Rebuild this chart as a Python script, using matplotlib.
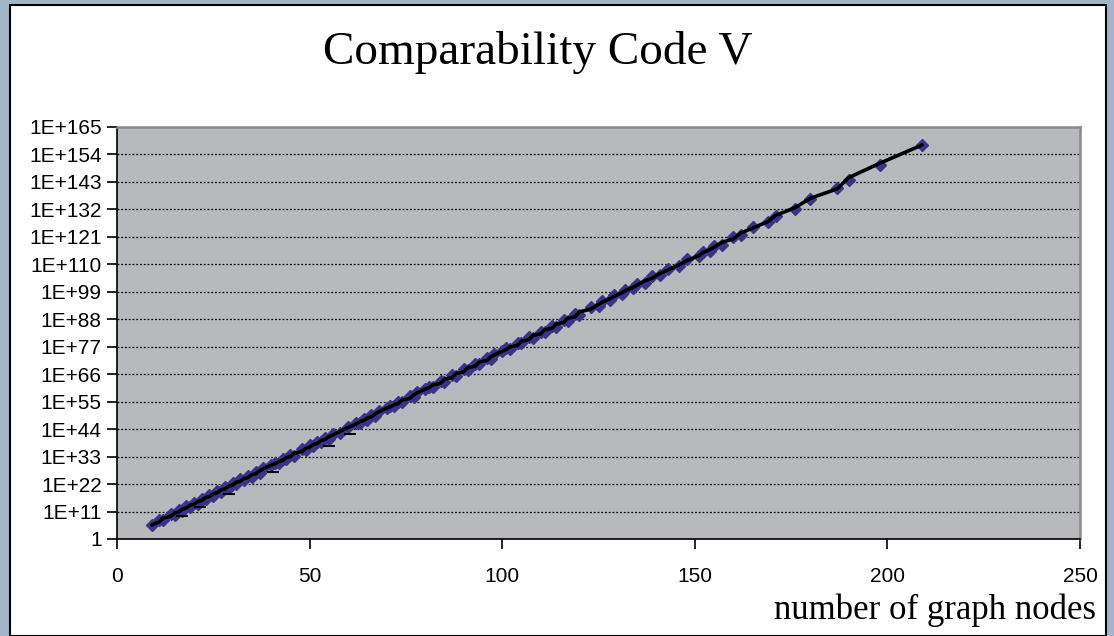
import numpy as np
import matplotlib
matplotlib.use("Agg")
import matplotlib.pyplot as plt
from matplotlib.ticker import FixedLocator, FixedFormatter, NullLocator
from matplotlib.patches import Rectangle

# ---- data ----
nodes = [9, 11, 12, 14, 15, 16, 17, 18, 19, 20, 21, 22, 23, 24, 25, 26, 27, 28, 29, 30,
         31, 32, 33, 34, 35, 36, 37, 38, 40, 41, 42, 43, 44, 45, 46, 48, 49, 50, 51, 52,
         53, 54, 55, 56, 58, 60, 62, 63, 64, 65, 66, 67, 68, 70, 71, 72, 73, 74, 76, 77,
         78, 80, 81, 82, 84, 85, 87, 88, 90, 91, 93, 94, 96, 97, 98, 100, 101, 102, 104, 105,
         107, 108, 110, 111, 113, 114, 116, 117, 119, 120, 123, 125, 126, 128, 129, 131, 132, 134, 135, 137,
         139, 141, 143, 146, 148, 151, 152, 154, 155, 157, 160, 162, 165, 169, 171, 176, 180, 187, 190, 198,
         209]
log10_code = [5.6, 7.6, 7.5, 10.1, 9.8, 11.5, 11.2, 13.1, 12.9, 14.6, 14.2, 16.2, 16.0, 17.7, 17.3, 19.2, 19.0, 20.8, 20.4, 22.3,
              22.0, 23.9, 23.5, 25.3, 25.0, 26.9, 26.5, 28.3, 29.6, 30.6, 30.3, 32.2, 31.9, 33.7, 33.4, 35.9, 35.6, 37.5, 37.1, 39.0,
              38.7, 40.5, 40.2, 42.1, 42.6, 44.9, 46.6, 46.3, 48.1, 47.8, 49.6, 49.3, 51.2, 52.5, 53.4, 53.1, 55.0, 54.7, 57.2, 57.0,
              58.8, 60.1, 61.0, 60.8, 63.3, 63.0, 65.6, 65.3, 67.9, 67.6, 70.2, 69.9, 72.4, 72.2, 74.0, 75.2, 76.3, 76.0, 78.5, 78.3,
              80.9, 80.6, 83.1, 82.8, 85.4, 85.1, 87.7, 87.4, 90.0, 89.7, 93.0, 93.5, 95.3, 95.8, 97.6, 98.1, 99.9, 100.4, 102.1, 102.7,
              105.2, 105.6, 108.2, 109.4, 112.0, 113.2, 115.1, 115.5, 117.3, 117.9, 121.1, 121.6, 124.9, 127.0, 129.5, 132.3, 136.3, 140.7, 143.8, 149.8,
              157.8]
dash_nodes = [17, 21.5, 29, 40.5, 55, 60.5]
dash_log10 = [9.2, 12.8, 18.1, 26.9, 37.3, 42.2]

xticks = [0, 50, 100, 150, 200, 250]
yexp = [0, 11, 22, 33, 44, 55, 66, 77, 88, 99, 110, 121, 132, 143, 154, 165]
ylabels = ["1"] + ["1E+%d" % e for e in yexp[1:]]

title = "Comparability Code V"
xlabel = "number of graph nodes"

# ---- figure ----
W, H = 1114, 636
fig = plt.figure(figsize=(W / 100, H / 100), dpi=100)
fig.patch.set_facecolor("#a3b6c8")
# white chart area with black frame
fig.patches.append(Rectangle((10 / W, 0), (1106 - 10) / W, (H - 5) / H, transform=fig.transFigure,
                             facecolor="white", edgecolor="black", linewidth=1.5, zorder=-10))

ax = fig.add_axes([117 / W, (H - 539) / H, (1080 - 117) / W, (539 - 127) / H])
ax.set_zorder(5)
ax.set_facecolor("#b8b9bd")

y = 10.0 ** np.array(log10_code)
ax.plot(nodes, y, linestyle="none", marker="D", markersize=6.5, color="#3a3489",
        markeredgecolor="#3a3489", zorder=3)
# smoothed trend line through the series (3-point centred average, endpoints kept)
lc = np.array(log10_code)
sm = lc.copy()
sm[1:-1] = (lc[:-2] + lc[1:-1] + lc[2:]) / 3
ax.plot(nodes, 10.0 ** sm, color="black", linewidth=2.6, zorder=4,
        solid_capstyle="round", solid_joinstyle="round")
ax.plot(dash_nodes, 10.0 ** np.array(dash_log10), linestyle="none", marker="_", markersize=9,
        markeredgewidth=1.5, color="black", zorder=4)

ax.set_yscale("log")
ax.set_xlim(0, 250)
ax.set_ylim(10.0 ** yexp[0], 10.0 ** yexp[-1])
ax.xaxis.set_major_locator(FixedLocator(xticks))
ax.yaxis.set_major_locator(FixedLocator([10.0 ** e for e in yexp]))
ax.yaxis.set_major_formatter(FixedFormatter(ylabels))
ax.yaxis.set_minor_locator(NullLocator())
ax.xaxis.set_minor_locator(NullLocator())

ax.grid(axis="y", which="major", color="black", linestyle=(0, (1.5, 1.5)), linewidth=0.9)
ax.set_axisbelow(True)

for s in ["left", "bottom"]:
    ax.spines[s].set_color("black")
    ax.spines[s].set_linewidth(1.2)
for s in ["top", "right"]:
    ax.spines[s].set_color("#8a8a8a")
    ax.spines[s].set_linewidth(1.8)

ax.tick_params(axis="both", direction="out", length=7, width=1.2, color="black",
               labelsize=15, labelcolor="black")
ax.tick_params(axis="x", pad=13)
ax.tick_params(axis="y", pad=4)
for lab in ax.get_xticklabels() + ax.get_yticklabels():
    lab.set_fontfamily("Liberation Sans")

fig.text(538 / W, 1 - 52 / H, title, ha="center", va="center", fontsize=34,
         family="Liberation Serif")
fig.text(1096 / W, 1 - 619 / H, xlabel, ha="right", va="baseline", fontsize=25,
         family="Liberation Serif")

fig.savefig("out.png", dpi=100, facecolor=fig.get_facecolor())
